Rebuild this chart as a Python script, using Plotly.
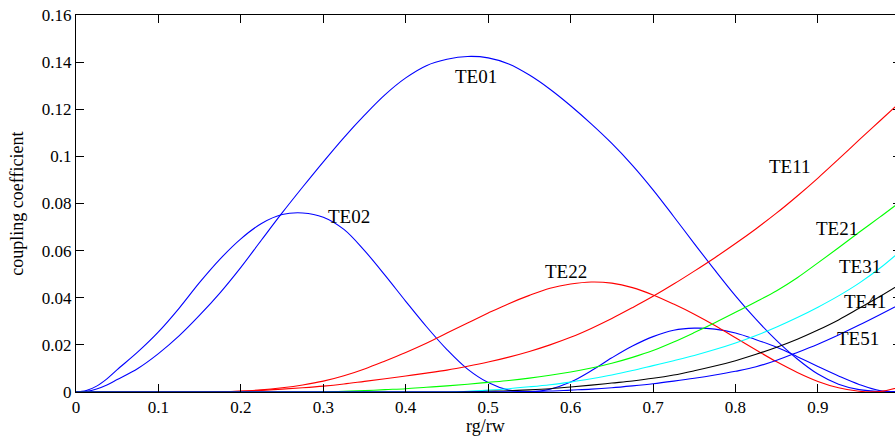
import plotly.graph_objects as go

# ---- data ----
x_te01 = [0, 0.0125, 0.025, 0.0375, 0.05, 0.075, 0.1, 0.125, 0.15, 0.175, 0.2, 0.225, 0.25, 0.275, 0.3, 0.325, 0.35, 0.375,
          0.4, 0.425, 0.45, 0.475, 0.5, 0.525, 0.55, 0.575, 0.6, 0.625, 0.65, 0.675, 0.7, 0.725, 0.75, 0.775,
          0.8, 0.825, 0.85, 0.875, 0.9, 0.925, 0.95, 0.975, 1.0]
y_te01 = [0, 0.0003, 0.0013, 0.0030, 0.0053, 0.0100, 0.0163, 0.0238, 0.0326, 0.0422, 0.0529, 0.0645, 0.0760, 0.0870, 0.0977, 0.1080, 0.1175, 0.1262,
          0.1333, 0.1385, 0.1412, 0.1424, 0.1418, 0.1392, 0.1345, 0.1285, 0.1215, 0.1138, 0.1055, 0.0962, 0.0858, 0.0745, 0.0630, 0.0517,
          0.0408, 0.0308, 0.0218, 0.0140, 0.0076, 0.0033, 0.0010, 0.0002, 0.0002]

x_te02 = [0, 0.0125, 0.025, 0.0375, 0.05, 0.075, 0.1, 0.125, 0.15, 0.175, 0.2, 0.225, 0.25, 0.275, 0.3, 0.325, 0.35, 0.375,
          0.4, 0.425, 0.45, 0.475, 0.5, 0.525, 0.55, 0.575, 0.6, 0.625, 0.65, 0.675, 0.7, 0.725, 0.75, 0.775,
          0.8, 0.825, 0.85, 0.875, 0.9, 0.925, 0.95, 0.975, 1.0]
y_te02 = [0, 0.0006, 0.0025, 0.0056, 0.0095, 0.0170, 0.0255, 0.0355, 0.0465, 0.0565, 0.0650, 0.0715, 0.0753, 0.0760, 0.0742, 0.0690, 0.0600, 0.0495,
          0.0385, 0.0278, 0.0180, 0.0097, 0.0040, 0.0008, 0.0001, 0.0012, 0.0042, 0.0090, 0.0145, 0.0195, 0.0235, 0.0262, 0.0271, 0.0267,
          0.0250, 0.0222, 0.0190, 0.0150, 0.0108, 0.0068, 0.0032, 0.0006, 0.0002]

x_te11 = [0, 0.15, 0.175, 0.2, 0.225, 0.25, 0.275, 0.3, 0.325, 0.35, 0.375, 0.4, 0.425, 0.45, 0.475, 0.5, 0.525, 0.55, 0.575,
          0.6, 0.625, 0.65, 0.675, 0.7, 0.725, 0.75, 0.775, 0.8, 0.825, 0.85, 0.875, 0.9, 0.925, 0.95, 0.975, 1.0]
y_te11 = [0, 0.0, 0.0001, 0.0003, 0.0007, 0.0012, 0.0018, 0.0025, 0.0034, 0.0045, 0.0056, 0.0068, 0.0080, 0.0093, 0.0109, 0.0127, 0.0148, 0.0172, 0.0200,
          0.0232, 0.0270, 0.0312, 0.0358, 0.0406, 0.0458, 0.0513, 0.0570, 0.0630, 0.0693, 0.0760, 0.0832, 0.0908, 0.0988, 0.1070, 0.1150, 0.1230]

x_te22 = [0, 0.15, 0.175, 0.2, 0.225, 0.25, 0.275, 0.3, 0.325, 0.35, 0.375, 0.4, 0.425, 0.45, 0.475, 0.5, 0.525, 0.55, 0.575,
          0.6, 0.625, 0.65, 0.675, 0.7, 0.725, 0.75, 0.775, 0.8, 0.825, 0.85, 0.875, 0.9, 0.925, 0.95, 0.975, 1.0]
y_te22 = [0, 0.0, 0.0001, 0.0004, 0.0009, 0.0018, 0.0030, 0.0046, 0.0069, 0.0098, 0.0132, 0.0168, 0.0207, 0.0250, 0.0293, 0.0335, 0.0375, 0.0410, 0.0440,
          0.0458, 0.0467, 0.0462, 0.0443, 0.0412, 0.0373, 0.0330, 0.0282, 0.0230, 0.0178, 0.0128, 0.0083, 0.0045, 0.0018, 0.0003, 0.0002, 0.0022]

x_te21 = [0, 0.3, 0.325, 0.35, 0.375, 0.4, 0.425, 0.45, 0.475, 0.5, 0.525, 0.55, 0.575, 0.6, 0.625, 0.65, 0.675,
          0.7, 0.725, 0.75, 0.775, 0.8, 0.825, 0.85, 0.875, 0.9, 0.925, 0.95, 0.975, 1.0]
y_te21 = [0, 0.0, 0.0003, 0.0006, 0.0010, 0.0014, 0.0020, 0.0026, 0.0033, 0.0041, 0.0049, 0.0059, 0.0071, 0.0085, 0.0102, 0.0122, 0.0147,
          0.0176, 0.0212, 0.0252, 0.0294, 0.0338, 0.0383, 0.0430, 0.0485, 0.0548, 0.0612, 0.0678, 0.0742, 0.0808]

x_te31 = [0, 0.45, 0.475, 0.5, 0.525, 0.55, 0.575, 0.6, 0.625, 0.65, 0.675, 0.7, 0.725, 0.75, 0.775,
          0.8, 0.825, 0.85, 0.875, 0.9, 0.925, 0.95, 0.975, 1.0]
y_te31 = [0, 0.0, 0.0003, 0.0008, 0.0014, 0.0022, 0.0031, 0.0042, 0.0056, 0.0072, 0.0091, 0.0112, 0.0133, 0.0155, 0.0180,
          0.0208, 0.0240, 0.0276, 0.0316, 0.0360, 0.0408, 0.0462, 0.0525, 0.0598]

x_te41 = [0, 0.45, 0.475, 0.5, 0.525, 0.55, 0.575, 0.6, 0.625, 0.65, 0.675, 0.7, 0.725, 0.75, 0.775,
          0.8, 0.825, 0.85, 0.875, 0.9, 0.925, 0.95, 0.975, 1.0]
y_te41 = [0, 0.0, 0.0001, 0.0003, 0.0005, 0.0009, 0.0014, 0.0021, 0.0029, 0.0038, 0.0047, 0.0058, 0.0072, 0.0090, 0.0110,
          0.0133, 0.0160, 0.0190, 0.0224, 0.0263, 0.0306, 0.0355, 0.0405, 0.0458]

x_te51 = [0, 0.5, 0.525, 0.55, 0.575, 0.6, 0.625, 0.65, 0.675, 0.7, 0.725, 0.75, 0.775,
          0.8, 0.825, 0.85, 0.875, 0.9, 0.925, 0.95, 0.975, 1.0]
y_te51 = [0, 0.0, 0.0001, 0.0002, 0.0004, 0.0008, 0.0012, 0.0018, 0.0026, 0.0035, 0.0046, 0.0058, 0.0072,
          0.0088, 0.0107, 0.0135, 0.0168, 0.0203, 0.0242, 0.0284, 0.0328, 0.0373]

series = [
    ("TE01", x_te01, y_te01, "#0000FF"),
    ("TE02", x_te02, y_te02, "#0000FF"),
    ("TE11", x_te11, y_te11, "#FF0000"),
    ("TE22", x_te22, y_te22, "#FF0000"),
    ("TE21", x_te21, y_te21, "#00FF00"),
    ("TE31", x_te31, y_te31, "#00FFFF"),
    ("TE41", x_te41, y_te41, "#000000"),
    ("TE51", x_te51, y_te51, "#0000FF"),
]

# label positions (data coords)
label_names = ["TE01", "TE02", "TE22", "TE11", "TE21", "TE31", "TE41", "TE51"]
label_x = [0.485, 0.331, 0.594, 0.866, 0.923, 0.951, 0.957, 0.949]
label_y = [0.1338, 0.0744, 0.0513, 0.0956, 0.0694, 0.0534, 0.0385, 0.0228]

x_tickvals = [0, 0.1, 0.2, 0.3, 0.4, 0.5, 0.6, 0.7, 0.8, 0.9, 1.0]
x_ticktext = ["0", "0.1", "0.2", "0.3", "0.4", "0.5", "0.6", "0.7", "0.8", "0.9", "1"]
y_tickvals = [0, 0.02, 0.04, 0.06, 0.08, 0.1, 0.12, 0.14, 0.16]
y_ticktext = ["0", "0.02", "0.04", "0.06", "0.08", "0.1", "0.12", "0.14", "0.16"]

FONT = "Liberation Serif"

fig = go.Figure()
for name, xs, ys, col in series:
    fig.add_trace(go.Scatter(x=xs, y=ys, mode="lines", name=name,
                             line=dict(color=col, width=1.1, shape="spline", smoothing=1.0),
                             showlegend=False, hoverinfo="skip"))
# empty trace so the right-hand tick axis is drawn
fig.add_trace(go.Scatter(x=[], y=[], yaxis="y2", showlegend=False))

for n, lx, ly in zip(label_names, label_x, label_y):
    fig.add_annotation(x=lx, y=ly, text=n, showarrow=False,
                       font=dict(family=FONT, size=19, color="black"),
                       xanchor="center", yanchor="middle")

fig.add_annotation(xref="paper", yref="paper", x=0.5, y=-0.058, text="rg/rw",
                   showarrow=False, font=dict(family=FONT, size=18, color="black"),
                   xanchor="center", yanchor="top")
fig.add_annotation(xref="paper", yref="paper", x=-0.073, y=0.5, text="coupling coefficient",
                   textangle=-90, showarrow=False,
                   font=dict(family=FONT, size=18, color="black"),
                   xanchor="center", yanchor="middle")

fig.update_layout(
    width=895, height=436,
    margin=dict(l=76, r=0, t=15, b=44),
    paper_bgcolor="white", plot_bgcolor="white",
    font=dict(family=FONT, size=17, color="black"),
    xaxis=dict(range=[0, 0.9935], showline=True, linecolor="black", linewidth=1,
               mirror="ticks", ticks="inside", ticklen=8, tickcolor="black",
               tickvals=x_tickvals, ticktext=x_ticktext, showgrid=False, zeroline=False,
               tickfont=dict(family=FONT, size=17, color="black")),
    yaxis=dict(range=[0, 0.16], showline=True, linecolor="black", linewidth=1,
               ticks="inside", ticklen=8, tickcolor="black",
               tickvals=y_tickvals, ticktext=y_ticktext, showgrid=False, zeroline=False,
               tickfont=dict(family=FONT, size=17, color="black")),
    yaxis2=dict(range=[0, 0.16], overlaying="y", side="right", showline=False,
                ticks="inside", ticklen=2, tickcolor="black", tickvals=y_tickvals,
                showticklabels=False, showgrid=False, zeroline=False),
)

fig.write_html("out.html", config={"displayModeBar": False},
               post_script="document.body.style.margin='0px';document.body.style.padding='0px';document.body.style.overflow='hidden';")
